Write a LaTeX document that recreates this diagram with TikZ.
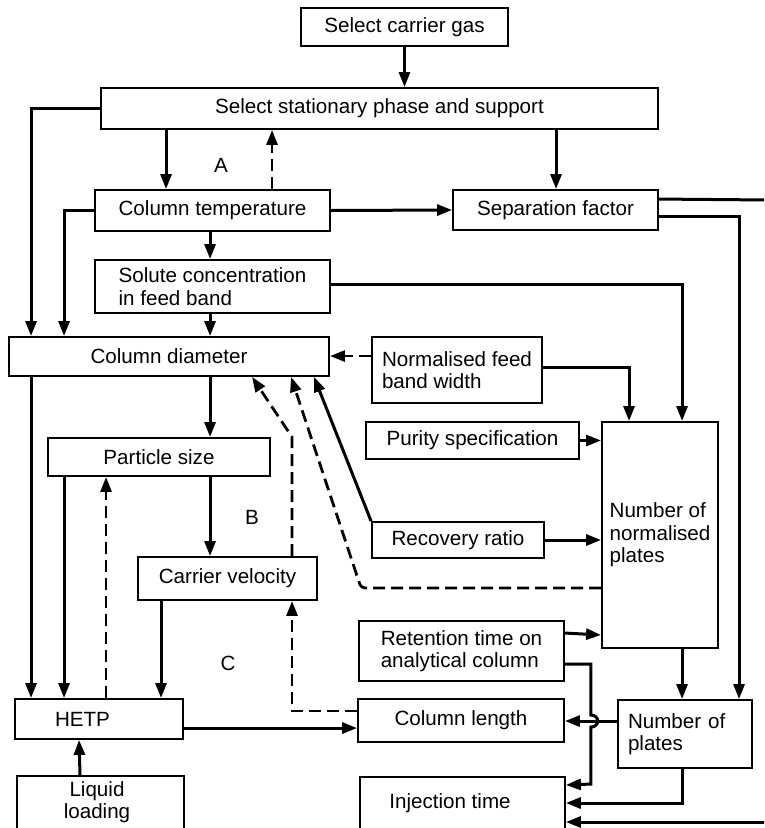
\documentclass[tikz,border=0pt]{standalone}
\usepackage{fontspec}
\setmainfont{Liberation Sans}
\usetikzlibrary{arrows.meta,calc}
\begin{document}
\begin{tikzpicture}[x=1pt,y=-1pt,
  font=\fontsize{20.6}{22.5}\selectfont,
  box/.style={draw,line width=1.9pt,inner sep=0pt,align=center},
  lbox/.style={draw,line width=1.9pt,inner ysep=0pt,align=left},
  ln/.style={line width=3pt},
  arr/.style={line width=3pt,-{Triangle[length=15pt,width=11pt]}},
  darr/.style={line width=2.8pt,dash pattern=on 12pt off 6pt,-{Triangle[length=15pt,width=11pt]}},
  tag/.style={inner sep=0pt}]
\useasboundingbox (0,0) rectangle (764,828);
\clip (0,0) rectangle (764,828);

% ---- boxes ----
\node[box,minimum width=207pt,minimum height=38pt] (gas) at (404.5,27) {Select carrier gas};
\node[box,minimum width=557pt,minimum height=41pt] (stat) at (379.5,108.5) {Select stationary phase and support};
\node[box,minimum width=235pt,minimum height=41pt] (temp) at (212.5,210.5) {Column temperature};
\node[box,minimum width=205pt,minimum height=40pt] (sep) at (555.5,210) {Separation factor};
\node[box,align=left,minimum width=235pt,minimum height=53pt] (solute) at (212.5,286.5) {Solute concentration\\in feed band};
\node[box,minimum width=320pt,minimum height=39pt] (diam) at (169,356.5) {Column diameter};
\node[box,align=left,minimum width=170pt,minimum height=66pt] (nfbw) at (457,370) {Normalised feed\\band width};
\node[box,minimum width=213pt,minimum height=37pt] (purity) at (472.5,440.5) {Purity specification};
\node[box,align=left,minimum width=116pt,minimum height=226pt] (nnp) at (660,535) {Number of\\normalised\\plates};
\node[box,minimum width=172pt,minimum height=36pt] (rec) at (458,540) {Recovery ratio};
\node[box,minimum width=222pt,minimum height=38pt] (part) at (159,457) {Particle size};
\node[box,minimum width=179pt,minimum height=43pt] (carv) at (227.5,578.5) {Carrier velocity};
\node[box,align=left,minimum width=205pt,minimum height=60pt] (ret) at (461.5,651) {Retention time on\\analytical column};
\node[lbox,text width=88pt,inner xsep=40pt,minimum height=40pt] (hetp) at (99,719) {HETP};
\node[box,minimum width=206pt,minimum height=43pt] (collen) at (461,720.5) {Column length};
\node[lbox,text width=114pt,inner xsep=10pt,minimum height=68pt] (nump) at (685,734) {Number of\\plates};
\node[box,anchor=north west,minimum width=167pt,minimum height=80pt] (liq) at (16,775) {};
\node[tag,align=center] (liqtext) at (97,802) {Liquid\\loading};
\node[box,anchor=north west,minimum width=205pt,minimum height=80pt] (inj) at (359,776) {};
\node[tag] (injtext) at (450,803) {Injection time};

% region labels
\node[tag] (labA) at (221,165) {A};
\node[tag] (labB) at (252,517) {B};
\node[tag] (labC) at (228,663) {C};

% off-page ends
\coordinate (sepout) at (770,200);
\coordinate (injin) at (770,822);

% ---- connectors ----
\draw[arr] (gas.south) -- (gas.south |- stat.north);
\draw[arr] (stat.west) -| ($(diam.north west)+(23,0)$);
\draw[arr] ($(stat.south west)+(66,0)$) -- ($(temp.north west)+(72,0)$);
\draw[darr] ($(temp.north west)+(178,0)$) -- ($(stat.south west)+(172,0)$);
\draw[arr] (temp.west) -| ($(diam.north west)+(56,0)$);
\draw[arr] (temp.east) -- (sep.west);
\draw[arr] ($(stat.south west)+(456,0)$) -- ($(sep.north west)+(104,0)$);
\draw[arr] ($(temp.south west)+(116,0)$) -- ($(solute.north west)+(116,0)$);
\draw[arr] ($(solute.south west)+(116,0)$) -- ($(diam.north west)+(202,0)$);
\draw[arr] ($(solute.north east)+(0,25)$) -| ($(nnp.north west)+(81,0)$);
\draw[ln] ($(sep.north east)+(0,10)$) -- (sepout);
\draw[arr] ($(sep.north east)+(0,27)$) -| ($(nump.north west)+(122,0)$);
\draw[darr] ($(nfbw.north west)+(0,20)$) -- ($(diam.north east)+(0,20)$);
\draw[arr] ($(nfbw.north east)+(0,31)$) -| ($(nnp.north west)+(28,0)$);
\draw[arr] (purity.east) -- (purity.east -| nnp.west);
\draw[arr] (rec.east) -- (rec.east -| nnp.west);
\draw[arr] (rec.north west) -- ($(diam.south west)+(306,0)$);
\draw[darr] ($(carv.north west)+(155,0)$) -- ++(0,-119) -- ($(diam.south west)+(244,0)$);
\draw[darr,rounded corners=4pt] ($(nnp.north west)+(0,167)$) -- ++(-240,0) -- ($(diam.south west)+(283,0)$);
\draw[arr] ($(diam.south west)+(202,0)$) -- ($(part.north west)+(163,0)$);
\draw[arr] ($(part.south west)+(163,0)$) -- ($(carv.north west)+(73,0)$);
\draw[arr] ($(diam.south west)+(23,0)$) -- ($(hetp.north west)+(17,0)$);
\draw[arr] ($(part.south west)+(17,0)$) -- ($(hetp.north west)+(50,0)$);
\draw[darr] ($(hetp.north west)+(92,0)$) -- ($(part.south west)+(59,0)$);
\draw[arr] ($(carv.south west)+(24,0)$) -- ($(hetp.north west)+(147,0)$);
\draw[darr] ($(collen.north west)+(0,13)$) -| ($(carv.south west)+(155,0)$);
\draw[arr] ($(hetp.north east)+(0,30)$) -- ($(collen.north west)+(0,30)$);
\draw[arr] ($(liq.north west)+(64,0)$) -- ($(hetp.south west)+(65,0)$);
\draw[arr] ($(ret.north east)+(0,13)$) -- ($(nnp.south west)+(0,-14)$);
\draw[arr] ($(ret.north east)+(0,44)$) -- ++(26,0) -- ++(0,51)
  .. controls +(9,0) and +(9,0) .. ++(0,12) -- ++(0,57) -- ($(inj.north east)+(0,9)$);
\draw[arr] ($(nump.north west)+(0,22)$) -- ($(collen.north east)+(0,23)$);
\draw[arr] ($(nnp.south west)+(81,0)$) -- ($(nump.north west)+(65,0)$);
\draw[arr] ($(nump.south west)+(65,0)$) |- ($(inj.north east)+(0,27)$);
\draw[arr] (injin) -- ($(inj.north east)+(0,46)$);
\end{tikzpicture}
\end{document}
